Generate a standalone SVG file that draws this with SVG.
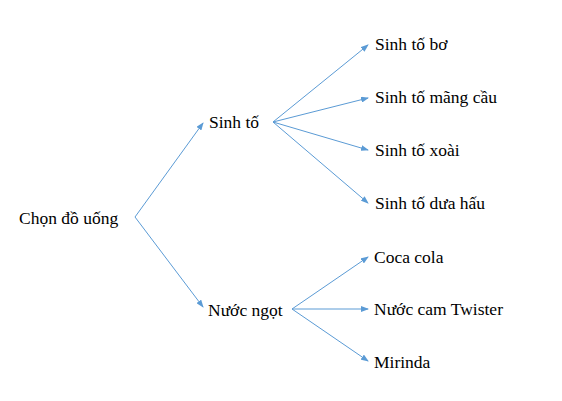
<svg xmlns="http://www.w3.org/2000/svg" width="562" height="401" viewBox="0 0 562 401">
<defs>
<marker id="arr" markerWidth="8" markerHeight="6" refX="7" refY="3" orient="auto" markerUnits="userSpaceOnUse">
<path d="M0,0 L8,3 L0,6 Z" fill="#5B9BD5"/>
</marker>
<style>
.c line{stroke:#5B9BD5;stroke-width:1;marker-end:url(#arr)}
</style>
</defs>
<rect width="562" height="401" fill="#fff"/>
<g class="c" id="connectors">
<line x1="135" y1="217" x2="203" y2="123"/>
<line x1="135" y1="217" x2="203" y2="307"/>
<line x1="273" y1="122" x2="368" y2="45"/>
<line x1="273" y1="122" x2="368" y2="98"/>
<line x1="273" y1="122" x2="368" y2="150"/>
<line x1="273" y1="122" x2="368" y2="203"/>
<line x1="292" y1="309" x2="368" y2="257"/>
<line x1="292" y1="309" x2="368" y2="309"/>
<line x1="292" y1="309" x2="368" y2="361"/>
</g>
<g font-family="Liberation Serif, Times New Roman, serif" font-size="17.5" fill="#000">
<g id="root"><text x="19" y="224">Chọn đồ uống</text></g>
<g id="sinhto"><text x="209" y="128">Sinh tố</text></g>
<g id="nuocngot"><text x="208" y="316">Nước ngọt</text></g>
<g id="bo"><text x="375" y="50">Sinh tố bơ</text></g>
<g id="mangcau"><text x="375" y="103">Sinh tố mãng cầu</text></g>
<g id="xoai"><text x="375" y="156">Sinh tố xoài</text></g>
<g id="duahau"><text x="375" y="209">Sinh tố dưa hấu</text></g>
<g id="coca"><text x="374" y="263">Coca cola</text></g>
<g id="twister"><text x="374" y="315">Nước cam Twister</text></g>
<g id="mirinda"><text x="374" y="368">Mirinda</text></g>
</g>
</svg>
